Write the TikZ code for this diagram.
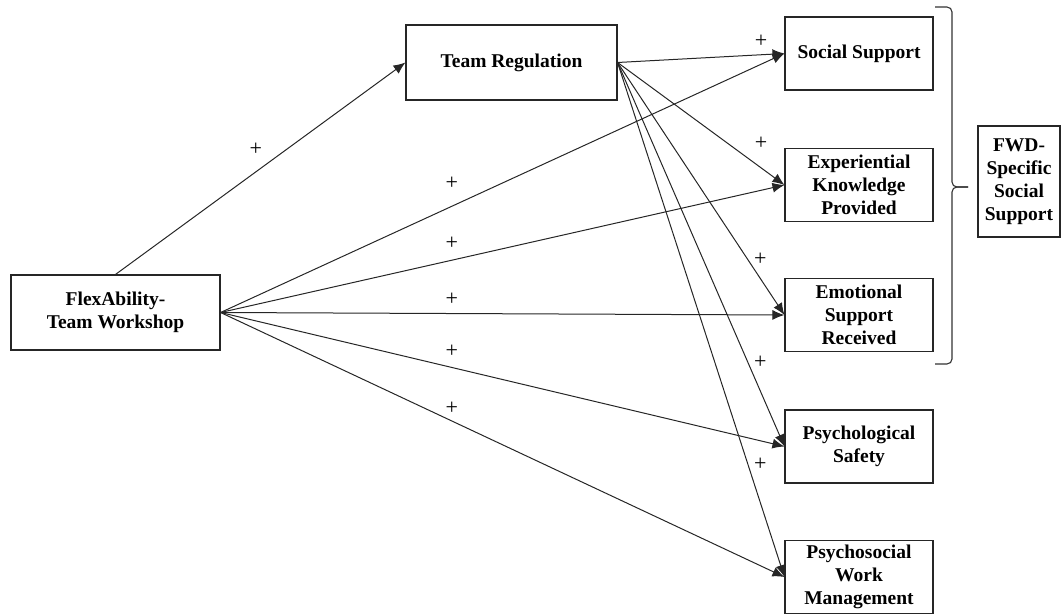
\documentclass[tikz,border=0pt]{standalone}
\usepackage{fontspec}
\setmainfont{Liberation Serif}
\usetikzlibrary{arrows.meta}

\begin{document}
\begin{tikzpicture}[
  x=1pt, y=-1pt,
  font=\fontsize{19.5}{23}\selectfont\bfseries,
  >={Latex[length=12pt,width=10pt]},
  var/.style={rectangle, draw=black!85, line width=1.1pt, align=center, inner sep=1pt,
              minimum width=148pt, minimum height=73pt},
  pth/.style={->, line width=1pt, draw=black!85},
  pl/.style={font=\fontsize{22}{23}\selectfont\mdseries, inner sep=1pt},
  brc/.style={line width=1.1pt, draw=black!80, rounded corners=5pt},
]
\useasboundingbox (0,0) rectangle (1061,615);

\node[var, minimum width=209pt, minimum height=75pt] (wsp) at (115.5,312.5) {FlexAbility-\\Team Workshop};
\node[var, minimum width=211pt, minimum height=75pt] (reg) at (511.5,62.5)  {Team Regulation};

\node[var] (soc)  at (859,53.5)  {Social Support};
\node[var] (exp)  at (859,185)   {Experiential\\Knowledge\\Provided};
\node[var] (emo)  at (859,315)   {Emotional\\Support\\Received};
\node[var] (psy)  at (859,446.5) {Psychological\\Safety};
\node[var] (pwm)  at (859,577)   {Psychosocial\\Work\\Management};
\node[var, minimum width=82pt, minimum height=111pt] (fwd) at (1019,181.5) {FWD-\\Specific\\Social\\Support};

% brace round the three support outcomes
\draw[brc] (935,7) -- (952,7) -- (952,187) -- (968,187);
\draw[brc] (968,187) -- (952,187) -- (952,364) -- (935,364);

\draw[pth] (wsp.north) -- node[pl, pos=.59, left=23pt]{+} (reg.west);

\draw[pth] (wsp.east) -- node[pl, pos=.41, above=15pt]{+} (soc.west);
\draw[pth] (wsp.east) -- node[pl, pos=.41, above=9pt]{+} (exp.west);
\draw[pth] (wsp.east) -- node[pl, pos=.41, above=7pt]{+} (emo.west);
\draw[pth] (wsp.east) -- node[pl, pos=.41, above=8pt]{+} (psy.west);
\draw[pth] (wsp.east) -- node[pl, pos=.41, above=5pt]{+} (pwm.west);

\draw[pth] (reg.east) -- node[pl, pos=.86, above=6pt]{+} (soc.west);
\draw[pth] (reg.east) -- node[pl, pos=.86, above=17pt]{+} (exp.west);
\draw[pth] (reg.east) -- node[pl, pos=.78, right=5pt]{+} (emo.west);
\draw[pth] (reg.east) -- node[pl, pos=.78, right=5pt]{+} (psy.west);
\draw[pth] (reg.east) -- node[pl, pos=.78, right=5pt]{+} (pwm.west);

\end{tikzpicture}
\end{document}
